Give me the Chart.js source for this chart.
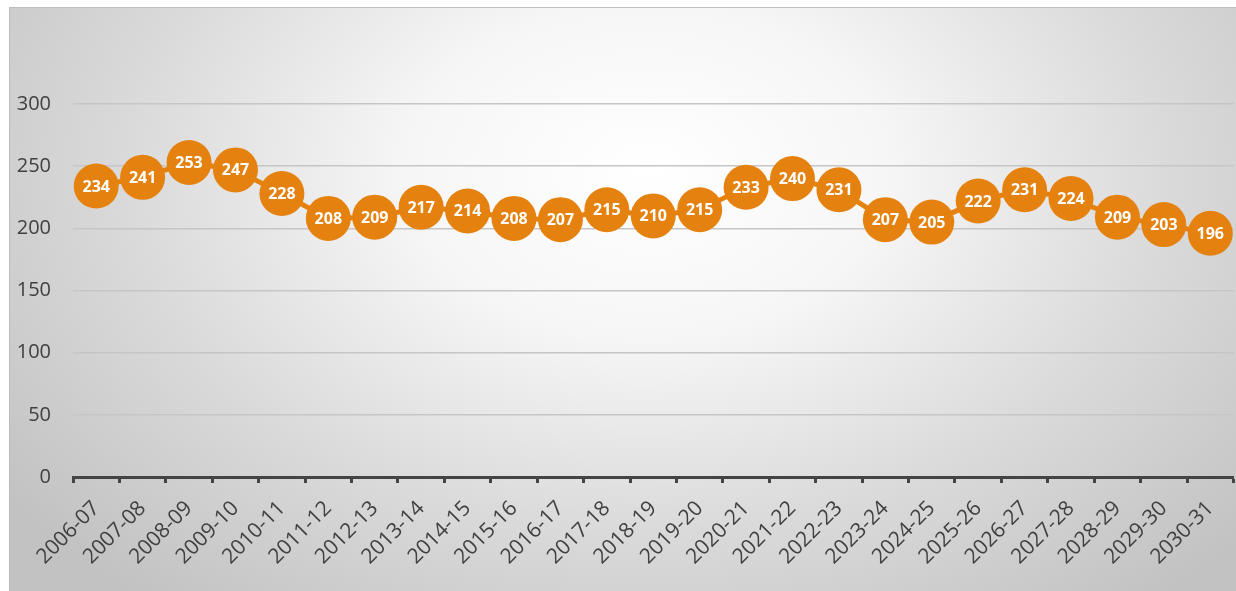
<!DOCTYPE html>
<html>
<head>
<meta charset="utf-8">
<script src="https://cdn.jsdelivr.net/npm/chart.js@4"></script>
<style>
  body { margin: 0; background: #fff; overflow: hidden; }
  #wrap { position: relative; width: 1236px; height: 591px; overflow: hidden; }
  #bg {
    position: absolute; left: 9px; top: 7px; right: 0; bottom: 0;
    border-top: 1px solid #bdbdbd; border-left: 1px solid #bdbdbd;
    background: radial-gradient(ellipse 65% 95% at 52% 28%, #ffffff 0%, #f6f6f6 30%, #dadada 65%, #c2c2c2 100%);
  }
  #chart { position: absolute; left: 0; top: 0; }
</style>
</head>
<body>
<div id="wrap">
  <div id="bg"></div>
  <canvas id="chart" width="1256" height="591"></canvas>
</div>
<script>
const years = ['2006-07','2007-08','2008-09','2009-10','2010-11','2011-12','2012-13','2013-14','2014-15',
  '2015-16','2016-17','2017-18','2018-19','2019-20','2020-21','2021-22','2022-23','2023-24','2024-25',
  '2025-26','2026-27','2027-28','2028-29','2029-30','2030-31'];
const values = [234,241,253,247,228,208,209,217,214,208,207,215,210,215,233,240,231,207,205,222,231,224,209,203,196];
const yTicks = [0, 50, 100, 150, 200, 250, 300];

// white numbers inside the orange circles
const pointLabels = {
  id: 'pointLabels',
  afterDatasetsDraw(chart) {
    const ctx = chart.ctx;
    const meta = chart.getDatasetMeta(0);
    ctx.save();
    ctx.fillStyle = '#ffffff';
    ctx.font = 'bold 16px "Open Sans"';
    ctx.textAlign = 'center';
    ctx.textBaseline = 'middle';
    meta.data.forEach((pt, i) => {
      ctx.fillText(values[i], pt.x, pt.y + 1);
    });
    ctx.restore();
  }
};

new Chart(document.getElementById('chart'), {
  type: 'line',
  data: {
    labels: years,
    datasets: [{
      data: values,
      borderColor: '#e5820f',
      borderWidth: 5,
      backgroundColor: '#e5820f',
      pointBackgroundColor: '#e5820f',
      pointBorderWidth: 0,
      pointRadius: 22.5,
      pointHoverRadius: 22.5,
      tension: 0
    }]
  },
  options: {
    responsive: false,
    animation: false,
    layout: { padding: { top: 104, right: 3, left: 0, bottom: 0 } },
    plugins: { legend: { display: false }, tooltip: { enabled: false } },
    scales: {
      x: {
        offset: true,
        afterFit: s => { s.height = 114; },
        border: { display: true, color: '#444444', width: 3 },
        grid: { offset: true, drawOnChartArea: false, tickLength: 6, tickWidth: 3, tickColor: '#444444' },
        ticks: {
          color: '#404040', font: { family: 'Open Sans', size: 21 },
          maxRotation: 45, minRotation: 45, padding: 13, autoSkip: false
        }
      },
      y: {
        min: 0, max: 300,
        afterFit: s => { s.width = 73; },
        afterBuildTicks: s => { s.ticks = yTicks.map(v => ({ value: v })); },
        border: { display: false },
        grid: { color: '#c6c6c6', lineWidth: 1.5, drawTicks: false },
        ticks: { color: '#404040', font: { family: 'Open Sans', size: 20 }, padding: 22 }
      }
    }
  },
  plugins: [pointLabels]
});
</script>
</body>
</html>
